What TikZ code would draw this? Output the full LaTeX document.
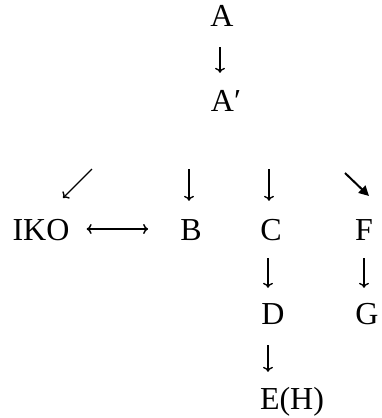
\documentclass[tikz,border=0pt]{standalone}
\usepackage{fontspec}
\setmainfont{Liberation Serif}
\usetikzlibrary{arrows.meta}

\begin{document}
\begin{tikzpicture}[x=1pt, y=-1pt,
    lbl/.style={font=\fontsize{32}{36}\selectfont, inner sep=0pt, text height=22pt, text depth=0pt},
    dn/.style={-{To[length=5pt,width=10pt]}, line width=1.4pt},
    fat/.style={-{Triangle[length=10pt,width=10pt]}, line width=2pt}]
            \useasboundingbox (0,0) rectangle (381,418);
            \node[lbl] (A) at (222,15) {A};
            \node[lbl] (A') at (226,100) {A′};
            \node[lbl] (IKO) at (41,229) {IKO};
            \node[lbl] (B) at (191,229) {B};
            \node[lbl] (C) at (271,229) {C};
            \node[lbl] (F) at (364,229) {F};
            \node[lbl] (D) at (273,313) {D};
            \node[lbl] (G) at (367,313) {G};
            \node[lbl] (EH) at (292,398) {E(H)};
            
            \coordinate (swtail) at (92,169);
            \coordinate (swtip) at (63,198);
            \coordinate (setail) at (345,173);
            \coordinate (setip) at (369,196);
            
            \draw[dn, shorten <=21pt, shorten >=16pt] ([xshift=-2pt]A.south) -- ([xshift=-2pt]A.south |- A'.north);
            \draw[dn] (swtail) -- (swtip);
            \draw[dn, shorten >=17pt] ([xshift=-2pt]B.north |- swtail) -- ([xshift=-2pt]B.north);
            \draw[dn, shorten >=17pt] ([xshift=-2pt]C.north |- swtail) -- ([xshift=-2pt]C.north);
            \draw[fat] (setail) -- (setip);
            \draw[{To[length=5pt,width=10pt]}-{To[length=5pt,width=10pt]}, line width=1.4pt, shorten <=17pt, shorten >=32pt] (IKO.east) -- (B.west);
            \draw[dn, shorten <=18pt, shorten >=14pt] ([xshift=-3pt]C.south) -- ([xshift=-3pt]C.south |- D.north);
            \draw[dn, shorten <=18pt, shorten >=14pt] (F.south) -- (F.south |- G.north);
            \draw[dn, shorten <=21pt, shorten >=15pt] ([xshift=-5pt]D.south) -- ([xshift=-5pt]D.south |- EH.north);
        \end{tikzpicture}
\end{document}
